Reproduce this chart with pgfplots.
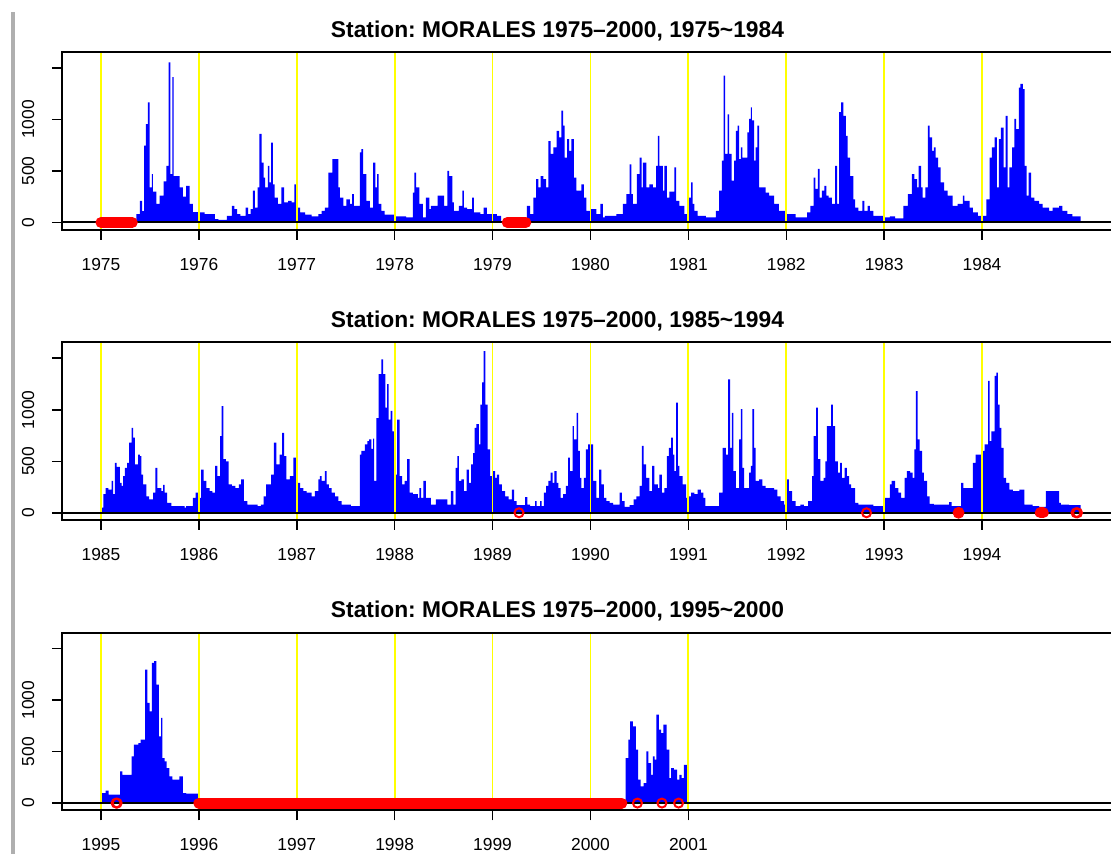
\documentclass[border=0pt]{standalone}
\usepackage{fontspec}
\setmainfont{Liberation Sans}
\usepackage{pgfplots}
\pgfplotsset{compat=1.18}
\frenchspacing
\definecolor{rblue}{RGB}{0,0,255}
\definecolor{rred}{RGB}{255,0,0}
\definecolor{ryellow}{RGB}{255,255,0}
\definecolor{edgegray}{RGB}{175,175,175}
\pgfplotsset{
  panel/.style={
    scale only axis, width=528.65pt, height=88.75pt,
    ymin=-70, ymax=1653,
    ytick={0,500,1000,1500}, yticklabels={0,500,1000,{}},
    tick align=outside, xtick pos=bottom, ytick pos=left,
    major tick length=5pt,
    tick style={black, line width=0.75pt},
    axis line style={line width=1pt},
    clip=false, axis on top,
    ticklabel style={font=\fontsize{8.7}{10}\selectfont, inner sep=0pt},
    xticklabel style={anchor=north},
    xticklabel shift=8.9pt,
    yticklabel style={rotate=90, anchor=south},
    yticklabel shift=8.5pt,
  },
  bars/.style={const plot, fill=rblue, draw=none},
  yel/.style={ycomb, ryellow, line width=0.9pt},
  zero/.style={black, line width=1pt},
  band/.style={rred, line width=5.5pt, line cap=round},
  ring/.style={only marks, mark=o, rred, mark size=2.25pt, line width=1pt},
  dot/.style={only marks, mark=*, rred, mark size=2.75pt},
}
\begin{document}
\begin{tikzpicture}
\draw[edgegray, line width=2pt] (6.25pt,0pt) -- (6.25pt,421pt);
% ---------------- panel 1 ----------------
\node[anchor=base, font=\fontsize{11.4}{13}\selectfont\bfseries] at (278.75pt,408.35pt) {Station: MORALES 1975–2000, 1975\textasciitilde1984};
\begin{axis}[panel, at={(30.9pt,312.15pt)}, anchor=south west,
  xmin=1974.6, xmax=1985.4,
  xtick={1975,1976,1977,1978,1979,1980,1981,1982,1983,1984},
  xticklabels={1975,1976,1977,1978,1979,1980,1981,1982,1983,1984}]
\addplot[bars] coordinates {
(1975.363,80) (1975.397,210) (1975.42,110) (1975.44,745) (1975.46,955) (1975.48,1165) (1975.498,340) (1975.519,470) (1975.53,300) (1975.566,180) (1975.60,260) (1975.64,400) (1975.668,550) (1975.692,1553) (1975.71,470) (1975.729,1410) (1975.742,450) (1975.803,340) (1975.837,250) (1975.871,355) (1975.905,180) (1975.939,100)
(1976.000,97) (1976.059,80) (1976.164,32) (1976.199,25) (1976.286,65) (1976.338,160) (1976.362,130) (1976.390,80) (1976.425,65) (1976.477,145) (1976.502,80) (1976.530,130) (1976.551,310) (1976.571,145) (1976.599,340) (1976.617,860) (1976.641,580) (1976.662,435) (1976.676,340) (1976.704,550) (1976.721,390) (1976.739,775) (1976.756,370) (1976.774,240) (1976.808,180) (1976.843,340) (1976.871,195) (1976.913,210) (1976.948,195) (1976.976,370) (1976.993,145)
(1977.000,145) (1977.034,97) (1977.085,75) (1977.153,58) (1977.220,80) (1977.254,113) (1977.288,145) (1977.322,485) (1977.363,615) (1977.424,340) (1977.441,240) (1977.475,160) (1977.508,225) (1977.542,180) (1977.566,275) (1977.583,160) (1977.644,680) (1977.661,713) (1977.678,470) (1977.712,210) (1977.746,145) (1977.780,580) (1977.803,340) (1977.820,470) (1977.837,180) (1977.864,113) (1977.898,75)
(1978.000,58) (1978.118,50) (1978.186,290) (1978.202,485) (1978.219,340) (1978.253,180) (1978.287,50) (1978.320,240) (1978.354,130) (1978.371,160) (1978.438,260) (1978.505,160) (1978.539,500) (1978.556,450) (1978.590,195) (1978.606,113) (1978.657,160) (1978.691,310) (1978.707,145) (1978.741,130) (1978.792,240) (1978.808,97) (1978.876,80) (1978.909,145) (1978.943,80)
(1979.000,80) (1979.044,65) (1979.088,0) (1979.35,160) (1979.383,80) (1979.417,240) (1979.444,420) (1979.468,340) (1979.492,450) (1979.518,420) (1979.546,340) (1979.569,790) (1979.593,665) (1979.620,730) (1979.654,890) (1979.681,825) (1979.704,1085) (1979.720,940) (1979.737,630) (1979.761,810) (1979.782,695) (1979.806,810) (1979.830,435) (1979.857,310) (1979.908,370) (1979.932,240) (1979.959,113)
(1980.000,130) (1980.061,80) (1980.102,180) (1980.128,50) (1980.146,65) (1980.264,80) (1980.332,180) (1980.366,275) (1980.400,565) (1980.417,275) (1980.434,180) (1980.475,470) (1980.502,630) (1980.522,340) (1980.535,580) (1980.570,340) (1980.603,370) (1980.637,340) (1980.671,550) (1980.688,840) (1980.705,550) (1980.739,310) (1980.756,550) (1980.780,240) (1980.807,300) (1980.858,535) (1980.875,210) (1980.909,160) (1980.960,80)
(1981.000,240) (1981.027,390) (1981.044,180) (1981.061,113) (1981.095,65) (1981.180,50) (1981.282,113) (1981.315,310) (1981.343,600) (1981.359,1425) (1981.376,665) (1981.400,1050) (1981.417,665) (1981.441,405) (1981.468,600) (1981.485,890) (1981.502,940) (1981.519,615) (1981.536,730) (1981.553,630) (1981.603,875) (1981.621,1005) (1981.638,1118) (1981.648,990) (1981.671,600) (1981.688,730) (1981.705,940) (1981.722,340) (1981.790,290) (1981.824,260) (1981.875,180) (1981.925,113)
(1982.000,80) (1982.095,50) (1982.213,97) (1982.247,160) (1982.280,435) (1982.297,325) (1982.324,520) (1982.341,240) (1982.365,310) (1982.389,355) (1982.409,260) (1982.432,240) (1982.466,180) (1982.500,550) (1982.520,180) (1982.541,1070) (1982.561,1165) (1982.584,1035) (1982.608,840) (1982.628,630) (1982.652,450) (1982.686,225) (1982.703,145) (1982.736,113) (1982.777,210) (1982.797,113) (1982.831,160) (1982.855,113) (1982.889,65)
(1983.000,50) (1983.059,58) (1983.111,40) (1983.197,160) (1983.242,275) (1983.284,470) (1983.308,420) (1983.336,340) (1983.353,550) (1983.377,340) (1983.394,240) (1983.422,340) (1983.446,940) (1983.464,825) (1983.491,695) (1983.509,730) (1983.526,630) (1983.550,535) (1983.578,390) (1983.612,310) (1983.647,260) (1983.699,160) (1983.751,180) (1983.803,260) (1983.820,210) (1983.872,145) (1983.907,97) (1983.958,65)
(1984.000,65) (1984.044,225) (1984.078,630) (1984.101,730) (1984.128,825) (1984.152,340) (1984.172,810) (1984.193,920) (1984.220,535) (1984.240,1035) (1984.260,340) (1984.280,535) (1984.307,730) (1984.331,1005) (1984.348,905) (1984.375,1310) (1984.392,1345) (1984.416,1295) (1984.436,550) (1984.456,260) (1984.476,485) (1984.500,240) (1984.534,210) (1984.584,180) (1984.618,145) (1984.686,113) (1984.720,145) (1984.787,160) (1984.821,113) (1984.872,80) (1984.922,58) (1985.007,58)
} \closedcycle;
\addplot[yel] coordinates {(1975,1653) (1976,1653) (1977,1653) (1978,1653) (1979,1653) (1980,1653) (1981,1653) (1982,1653) (1983,1653) (1984,1653)};
\addplot[yel] coordinates {(1975,-70) (1976,-70) (1977,-70) (1978,-70) (1979,-70) (1980,-70) (1981,-70) (1982,-70) (1983,-70) (1984,-70)};
\addplot[zero] coordinates {(1974.6,0) (1985.4,0)};
\addplot[band] coordinates {(1975.0,0) (1975.32,0)};
\addplot[band] coordinates {(1979.15,0) (1979.34,0)};
\end{axis}
% ---------------- panel 2 ----------------
\node[anchor=base, font=\fontsize{11.4}{13}\selectfont\bfseries] at (278.75pt,263.35pt) {Station: MORALES 1975–2000, 1985\textasciitilde1994};
\begin{axis}[panel, at={(30.9pt,167pt)}, anchor=south west,
  xmin=1984.6, xmax=1995.4,
  xtick={1985,1986,1987,1988,1989,1990,1991,1992,1993,1994},
  xticklabels={1985,1986,1987,1988,1989,1990,1991,1992,1993,1994}]
\addplot[bars] coordinates {
(1985.000,50) (1985.024,180) (1985.047,240) (1985.075,225) (1985.108,310) (1985.125,180) (1985.142,485) (1985.159,445) (1985.193,290) (1985.210,260) (1985.227,355) (1985.244,435) (1985.268,485) (1985.288,680) (1985.312,825) (1985.329,730) (1985.346,470) (1985.380,565) (1985.397,550) (1985.414,370) (1985.431,275) (1985.464,160) (1985.492,130) (1985.532,195) (1985.556,435) (1985.576,240) (1985.617,210) (1985.634,270) (1985.651,195) (1985.675,97) (1985.719,65) (1985.854,50) (1985.871,65) (1985.939,145) (1985.966,195)
(1986.000,145) (1986.024,420) (1986.049,310) (1986.077,240) (1986.111,210) (1986.139,195) (1986.167,455) (1986.188,355) (1986.216,745) (1986.233,1035) (1986.251,520) (1986.275,500) (1986.303,275) (1986.338,260) (1986.373,240) (1986.408,275) (1986.432,325) (1986.460,113) (1986.495,80) (1986.599,65) (1986.634,80) (1986.662,160) (1986.686,275) (1986.739,370) (1986.767,680) (1986.791,470) (1986.826,565) (1986.850,775) (1986.871,550) (1986.895,325) (1986.930,355) (1986.965,535)
(1987.000,290) (1987.034,240) (1987.068,210) (1987.102,195) (1987.153,160) (1987.186,210) (1987.220,325) (1987.237,355) (1987.254,310) (1987.288,405) (1987.305,275) (1987.329,240) (1987.356,195) (1987.390,160) (1987.424,113) (1987.458,80) (1987.553,65) (1987.644,565) (1987.661,600) (1987.695,665) (1987.722,695) (1987.739,713) (1987.763,620) (1987.780,720) (1987.790,310) (1987.814,920) (1987.837,1345) (1987.864,1490) (1987.881,1345) (1987.905,1020) (1987.922,1250) (1987.939,905) (1987.959,990) (1987.976,790)
(1988.000,370) (1988.024,905) (1988.051,355) (1988.075,275) (1988.101,310) (1988.128,520) (1988.152,195) (1988.186,180) (1988.236,145) (1988.253,240) (1988.270,145) (1988.293,310) (1988.320,145) (1988.371,80) (1988.421,130) (1988.539,80) (1988.573,210) (1988.600,80) (1988.623,435) (1988.640,550) (1988.657,310) (1988.681,325) (1988.707,210) (1988.734,420) (1988.758,290) (1988.782,470) (1988.802,580) (1988.818,825) (1988.835,860) (1988.859,665) (1988.876,1050) (1988.893,1265) (1988.909,1570) (1988.926,1050) (1988.949,615) (1988.976,355)
(1989.000,405) (1989.027,340) (1989.044,370) (1989.068,275) (1989.095,210) (1989.129,160) (1989.163,130) (1989.197,225) (1989.220,113) (1989.247,75) (1989.332,152) (1989.356,80) (1989.383,65) (1989.434,113) (1989.451,65) (1989.485,113) (1989.502,65) (1989.525,195) (1989.546,260) (1989.569,310) (1989.593,390) (1989.614,290) (1989.631,405) (1989.654,290) (1989.671,240) (1989.695,145) (1989.722,180) (1989.749,260) (1989.773,535) (1989.790,405) (1989.817,840) (1989.831,713) (1989.858,970) (1989.875,600) (1989.892,340) (1989.908,240) (1989.932,340) (1989.953,615) (1989.976,665)
(1990.000,665) (1990.027,310) (1990.061,145) (1990.088,420) (1990.112,275) (1990.136,145) (1990.163,113) (1990.197,97) (1990.231,80) (1990.298,195) (1990.322,113) (1990.349,58) (1990.400,75) (1990.441,130) (1990.468,160) (1990.502,260) (1990.525,650) (1990.542,470) (1990.569,340) (1990.603,210) (1990.631,455) (1990.654,275) (1990.688,240) (1990.705,370) (1990.729,195) (1990.756,240) (1990.780,550) (1990.800,630) (1990.824,730) (1990.841,565) (1990.858,405) (1990.875,1070) (1990.892,455) (1990.908,355) (1990.942,275) (1990.976,145)
(1991.000,160) (1991.027,195) (1991.061,180) (1991.095,225) (1991.129,195) (1991.153,145) (1991.173,65) (1991.315,195) (1991.349,630) (1991.383,565) (1991.407,1295) (1991.427,630) (1991.444,970) (1991.461,405) (1991.485,240) (1991.519,713) (1991.536,1005) (1991.553,435) (1991.570,240) (1991.621,390) (1991.638,455) (1991.654,1005) (1991.671,630) (1991.688,310) (1991.722,325) (1991.756,260) (1991.790,240) (1991.875,225) (1991.909,160) (1991.943,113) (1991.977,80)
(1992.000,325) (1992.027,210) (1992.061,113) (1992.095,65) (1992.145,80) (1992.179,65) (1992.223,113) (1992.264,355) (1992.280,745) (1992.304,1020) (1992.324,520) (1992.348,310) (1992.382,340) (1992.399,500) (1992.416,840) (1992.459,1050) (1992.476,840) (1992.500,500) (1992.527,390) (1992.551,485) (1992.568,340) (1992.595,435) (1992.618,355) (1992.642,275) (1992.662,240) (1992.703,97) (1992.736,80) (1992.889,65)
(1993.000,145) (1993.059,275) (1993.076,310) (1993.111,240) (1993.145,195) (1993.173,145) (1993.208,340) (1993.232,405) (1993.266,390) (1993.291,340) (1993.308,615) (1993.325,1180) (1993.343,713) (1993.363,600) (1993.388,390) (1993.405,310) (1993.439,160) (1993.464,87) (1993.509,80) (1993.664,104) (1993.689,65) (1993.785,290) (1993.810,240) (1993.907,485) (1993.934,565)
(1994.000,600) (1994.027,665) (1994.061,1280) (1994.078,695) (1994.095,790) (1994.128,1330) (1994.145,1360) (1994.162,1050) (1994.179,825) (1994.196,630) (1994.220,340) (1994.247,290) (1994.280,225) (1994.314,210) (1994.382,225) (1994.432,80) (1994.517,65) (1994.584,58) (1994.652,210) (1994.787,97) (1994.804,80) (1994.889,75) (1995.007,75)
} \closedcycle;
\addplot[yel] coordinates {(1985,1653) (1986,1653) (1987,1653) (1988,1653) (1989,1653) (1990,1653) (1991,1653) (1992,1653) (1993,1653) (1994,1653)};
\addplot[yel] coordinates {(1985,-70) (1986,-70) (1987,-70) (1988,-70) (1989,-70) (1990,-70) (1991,-70) (1992,-70) (1993,-70) (1994,-70)};
\addplot[zero] coordinates {(1984.6,0) (1995.4,0)};
\addplot[ring] coordinates {(1989.27,0) (1992.82,0) (1994.96,0) (1994.975,0)};
\addplot[dot] coordinates {(1993.76,0)};
\addplot[band] coordinates {(1994.595,0) (1994.625,0)};
\end{axis}
% ---------------- panel 3 ----------------
\node[anchor=base, font=\fontsize{11.4}{13}\selectfont\bfseries] at (278.75pt,118.05pt) {Station: MORALES 1975–2000, 1995\textasciitilde2000};
\begin{axis}[panel, at={(30.9pt,21.85pt)}, anchor=south west,
  xmin=1994.6, xmax=2005.4,
  xtick={1995,1996,1997,1998,1999,2000,2001},
  xticklabels={1995,1996,1997,1998,1999,2000,2001}]
\addplot[bars] coordinates {
(1995.000,97) (1995.047,120) (1995.079,81) (1995.195,308) (1995.219,275) (1995.312,454) (1995.335,567) (1995.381,583) (1995.405,615) (1995.451,1296) (1995.474,972) (1995.498,891) (1995.521,1360) (1995.544,1377) (1995.567,1150) (1995.591,648) (1995.614,826) (1995.628,437) (1995.651,405) (1995.670,340) (1995.698,260) (1995.730,227) (1995.800,260) (1995.837,97) (1995.870,91) (1996.000,0)
(2000.358,437) (2000.386,615) (2000.405,794) (2000.433,745) (2000.465,518) (2000.488,227) (2000.512,162) (2000.544,194) (2000.572,502) (2000.591,389) (2000.619,275) (2000.637,454) (2000.656,421) (2000.674,859) (2000.698,713) (2000.721,680) (2000.744,761) (2000.777,518) (2000.805,243) (2000.823,340) (2000.851,324) (2000.884,227) (2000.907,275) (2000.930,243) (2000.953,372) (2000.991,372)
} \closedcycle;
\addplot[yel] coordinates {(1995,1653) (1996,1653) (1997,1653) (1998,1653) (1999,1653) (2000,1653) (2001,1653)};
\addplot[yel] coordinates {(1995,-70) (1996,-70) (1997,-70) (1998,-70) (1999,-70) (2000,-70) (2001,-70)};
\addplot[zero] coordinates {(1994.6,0) (2005.4,0)};
\addplot[band] coordinates {(1996.0,0) (2000.32,0)};
\addplot[ring] coordinates {(1995.155,0) (1995.165,0) (2000.48,0) (2000.73,0) (2000.90,0)};
\end{axis}
\pgfresetboundingbox
\useasboundingbox (0pt,0pt) rectangle (555.5pt,427pt);
\end{tikzpicture}
\end{document}
